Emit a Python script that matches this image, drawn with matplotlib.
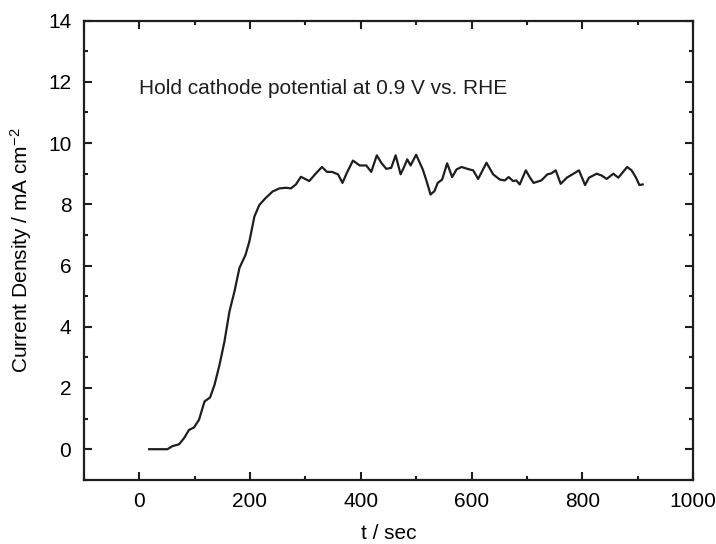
import matplotlib
matplotlib.use("Agg")
import matplotlib.pyplot as plt
from matplotlib.ticker import MultipleLocator

plt.rcParams['font.family'] = ['Liberation Sans', 'DejaVu Sans']
plt.rcParams['mathtext.fontset'] = 'custom'
plt.rcParams['mathtext.rm'] = 'Liberation Sans'
plt.rcParams['mathtext.default'] = 'regular'

# current density trace
t = [18, 51, 60, 72, 81, 90, 99, 108, 118, 128, 136, 145, 154, 163, 172, 181,
     192, 199, 208, 217, 228, 241, 253, 265, 274, 283, 292, 307, 320, 330, 339,
     348, 359, 367, 375, 386, 398, 410, 419, 429, 437, 446, 455, 463, 472, 479,
     484, 490, 500, 512, 518, 526, 533, 539, 547, 556, 565, 573, 582, 596, 603,
     612, 627, 639, 651, 660, 667, 675, 681, 687, 698, 705, 712, 726, 737, 744,
     752, 761, 772, 784, 794, 805, 812, 826, 835, 844, 856, 865, 881, 889, 897,
     903, 909]
j = [0.0, 0.0, 0.1, 0.16, 0.36, 0.63, 0.71, 0.96, 1.56, 1.69, 2.1, 2.75, 3.52,
     4.5, 5.15, 5.92, 6.35, 6.79, 7.6, 7.98, 8.2, 8.42, 8.52, 8.54, 8.52, 8.65,
     8.9, 8.76, 9.03, 9.22, 9.06, 9.06, 8.98, 8.7, 9.03, 9.43, 9.27, 9.27, 9.06,
     9.6, 9.36, 9.16, 9.19, 9.6, 8.98, 9.25, 9.47, 9.27, 9.62, 9.14, 8.81, 8.32,
     8.43, 8.7, 8.81, 9.34, 8.89, 9.14, 9.22, 9.14, 9.11, 8.83, 9.36, 8.98, 8.81,
     8.78, 8.89, 8.76, 8.78, 8.65, 9.11, 8.89, 8.7, 8.78, 8.98, 9.01, 9.11, 8.67,
     8.87, 9.0, 9.11, 8.63, 8.87, 9.0, 8.94, 8.83, 9.0, 8.87, 9.22, 9.11, 8.87,
     8.63, 8.65]

fig = plt.figure(figsize=(7.16, 5.44), dpi=100)
ax = fig.add_axes([0.117, 0.118, 0.851, 0.844])

ax.plot(t, j, color='#1e1e1e', lw=1.6, solid_joinstyle='round')

ax.set_xlim(-100, 1000)
ax.set_ylim(-1, 14)
ax.xaxis.set_major_locator(MultipleLocator(200))
ax.xaxis.set_minor_locator(MultipleLocator(100))
ax.yaxis.set_major_locator(MultipleLocator(2))
ax.yaxis.set_minor_locator(MultipleLocator(1))
ax.tick_params(which='both', direction='in', top=True, right=True, width=1.5,
               labelsize=15, color='#1e1e1e')
ax.tick_params(which='major', length=6, pad=9)
ax.tick_params(which='minor', length=3)
for s in ax.spines.values():
    s.set_linewidth(1.6)
    s.set_color('#1e1e1e')

ax.set_xlabel('t / sec', fontsize=15, labelpad=9)
ax.set_ylabel('Current Density / mA cm$^{-2}$', fontsize=15, labelpad=10)
ax.text(0, 11.8, 'Hold cathode potential at 0.9 V vs. RHE', fontsize=15,
        va='center', ha='left', color='#1e1e1e')

fig.savefig('out.png', dpi=100)
